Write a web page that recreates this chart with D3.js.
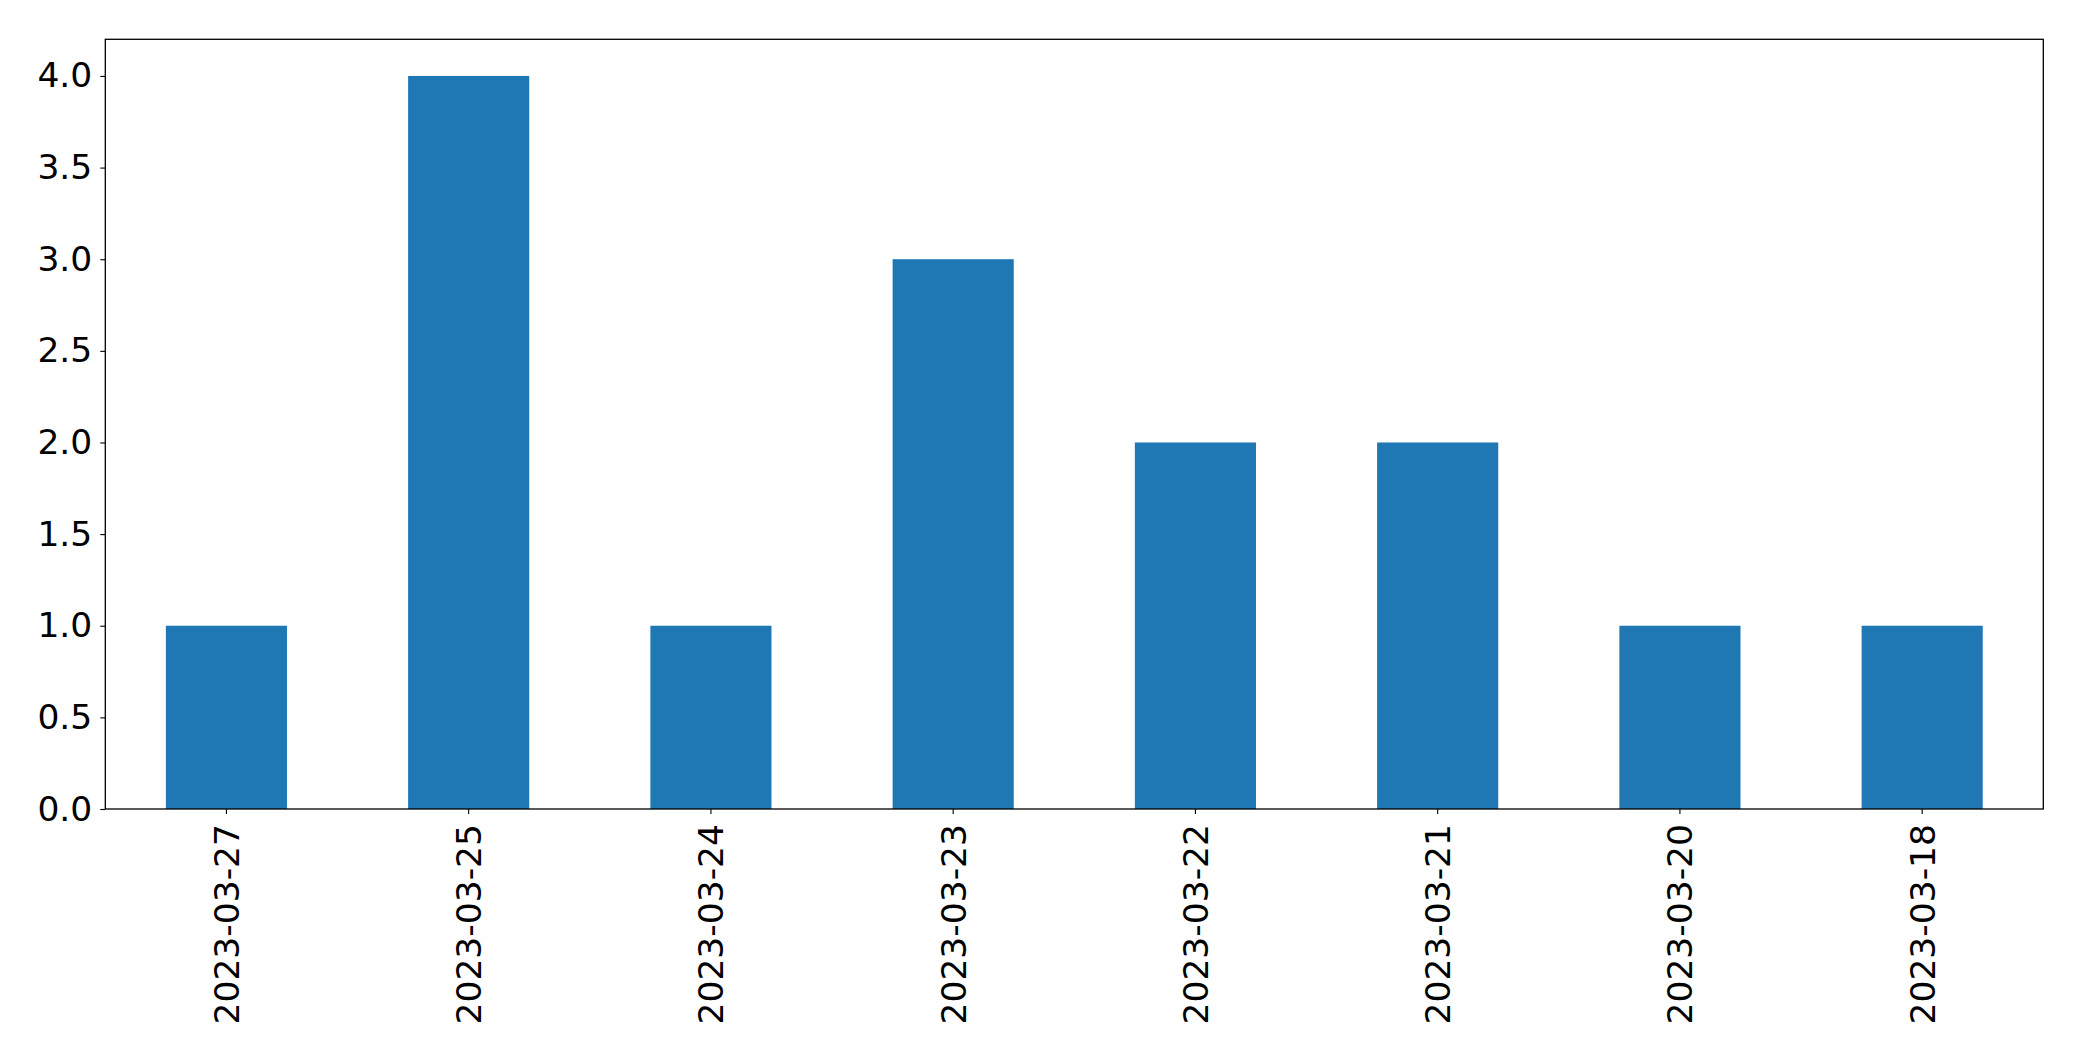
<!DOCTYPE html>
<html><head><meta charset="utf-8">
<script src="https://cdn.jsdelivr.net/npm/d3@7"></script>
<style>body{margin:0;background:#fff}svg{display:block}</style>
</head><body>
<script>
const categories = ["2023-03-27","2023-03-25","2023-03-24","2023-03-23","2023-03-22","2023-03-21","2023-03-20","2023-03-18"];
const values = [1,4,1,3,2,2,1,1];
const yTicks = [0,0.5,1,1.5,2,2.5,3,3.5,4];

const W = 2082, H = 1061;
const m = {left:105.3, right:W-2043.3, top:39.3, bottom:H-809};
const svg = d3.select("body").append("svg").attr("width",W).attr("height",H);
const x = d3.scaleBand().domain(categories).range([m.left, W-m.right]).paddingInner(0.5).paddingOuter(0.25);
const y = d3.scaleLinear().domain([0,4.2]).range([H-m.bottom, m.top]);

svg.append("g").selectAll("rect").data(values).join("rect")
  .attr("x",(d,i)=>x(categories[i])).attr("width",x.bandwidth())
  .attr("y",d=>y(d)).attr("height",d=>y(0)-y(d)).attr("fill","#1f77b4");

const font = "'DejaVu Sans', sans-serif";
const fs = 34.5;
const ya = svg.append("g").attr("transform",`translate(${m.left},0)`)
  .call(d3.axisLeft(y).tickValues(yTicks).tickFormat(d3.format(".1f")).tickSize(5).tickPadding(8));
ya.select(".domain").remove();
ya.selectAll("text").attr("font-family",font).attr("font-size",fs).attr("fill","#000");
ya.selectAll("line").attr("stroke","#000").attr("stroke-width",1.1);

const xa = svg.append("g").attr("transform",`translate(0,${H-m.bottom})`)
  .call(d3.axisBottom(x).tickSize(5).tickPadding(0));
xa.select(".domain").remove();
xa.selectAll("line").attr("stroke","#000").attr("stroke-width",1.1);
xa.selectAll("text").attr("font-family",font).attr("font-size",fs).attr("fill","#000")
  .attr("text-anchor","end").attr("dy","0.36em")
  .attr("transform","translate(0,15) rotate(-90)").attr("x",0).attr("y",0);

svg.append("rect").attr("x",m.left).attr("y",m.top)
  .attr("width",W-m.right-m.left).attr("height",H-m.bottom-m.top)
  .attr("fill","none").attr("stroke","#000").attr("stroke-width",1.3);
</script>
</body></html>
